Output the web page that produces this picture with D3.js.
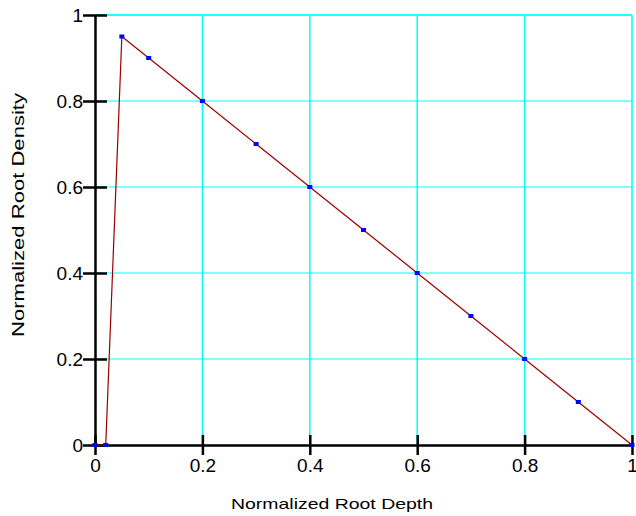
<!DOCTYPE html>
<html><head><meta charset="utf-8">
<script src="https://cdn.jsdelivr.net/npm/d3@7"></script>
<style>body{margin:0;background:#fff}svg{display:block}</style>
</head><body>
<script>
const depth = [0, 0.02, 0.05, 0.1, 0.2, 0.3, 0.4, 0.5, 0.6, 0.7, 0.8, 0.9, 1.0];
const density = [0, 0, 0.95, 0.9, 0.8, 0.7, 0.6, 0.5, 0.4, 0.3, 0.2, 0.1, 0];
const xTicks = [0, 0.2, 0.4, 0.6, 0.8, 1];
const yTicks = [0, 0.2, 0.4, 0.6, 0.8, 1];
const xTitle = "Normalized Root Depth";
const yTitle = "Normalized Root Density";

const W = 636, H = 516;
const svg = d3.select("body").append("svg").attr("width", W).attr("height", H);
const x = d3.scaleLinear().domain([0, 1]).range([95, 632]);
const y = d3.scaleLinear().domain([0, 1]).range([445, 15]);
const font = "Liberation Sans, Arial, sans-serif";

// grid
svg.append("g").selectAll("line").data(yTicks.filter(d => d > 0)).join("line")
  .attr("x1", x(0)).attr("x2", x(1)).attr("y1", d => y(d)).attr("y2", d => y(d))
  .attr("stroke", "#00ffff").attr("stroke-width", 1);
svg.append("g").selectAll("line").data(xTicks.filter(d => d > 0)).join("line")
  .attr("x1", d => x(d)).attr("x2", d => x(d)).attr("y1", y(0)).attr("y2", y(1))
  .attr("stroke", "#00ffff").attr("stroke-width", 1.5);
svg.append("line").attr("x1", x(0)).attr("x2", x(1)).attr("y1", y(1)).attr("y2", y(1))
  .attr("stroke", "#00ffff").attr("stroke-width", 1.5);

// axes
const xAxis = d3.axisBottom(x).tickValues(xTicks).tickFormat(d3.format("")).tickSizeInner(10).tickSizeOuter(0).tickPadding(5);
const gx = svg.append("g").attr("transform", `translate(0,${y(0)})`).call(xAxis);
gx.select(".domain").attr("stroke", "#000").attr("stroke-width", 2.5);
gx.selectAll(".tick line").attr("y1", -10).attr("y2", 10).attr("stroke", "#000").attr("stroke-width", 2.5);
gx.selectAll(".tick text").attr("font-family", font).attr("font-size", 19).attr("fill", "#000")
  .attr("y", 27).attr("dy", null);

const yAxis = d3.axisLeft(y).tickValues(yTicks).tickFormat(d3.format("")).tickSizeInner(12).tickSizeOuter(0).tickPadding(0);
const gy = svg.append("g").attr("transform", `translate(${x(0)},0)`).call(yAxis);
gy.select(".domain").attr("stroke", "#000").attr("stroke-width", 2.5);
gy.selectAll(".tick line").attr("x1", -12).attr("x2", 12).attr("stroke", "#000").attr("stroke-width", 2.5);
gy.selectAll(".tick text").attr("font-family", font).attr("font-size", 19).attr("fill", "#000")
  .attr("x", -12).attr("dy", "0.36em");

// line
const pts = depth.map((d, i) => [d, density[i]]);
svg.append("path").datum(pts)
  .attr("d", d3.line().x(d => x(d[0])).y(d => y(d[1])))
  .attr("fill", "none").attr("stroke", "#990000").attr("stroke-width", 1.2);
svg.append("g").selectAll("rect").data(pts).join("rect")
  .attr("x", d => x(d[0]) - 2.5).attr("y", d => y(d[1]) - 2)
  .attr("width", 5).attr("height", 4).attr("fill", "#0000ff");

// titles
svg.append("text").attr("x", 231).attr("y", 509)
  .attr("font-family", font).attr("font-size", 15)
  .attr("textLength", 202).attr("lengthAdjust", "spacingAndGlyphs").text(xTitle);
svg.append("text").attr("transform", "translate(24,337) rotate(-90)")
  .attr("font-family", font).attr("font-size", 16)
  .attr("textLength", 244).attr("lengthAdjust", "spacingAndGlyphs").text(yTitle);
</script>
</body></html>
